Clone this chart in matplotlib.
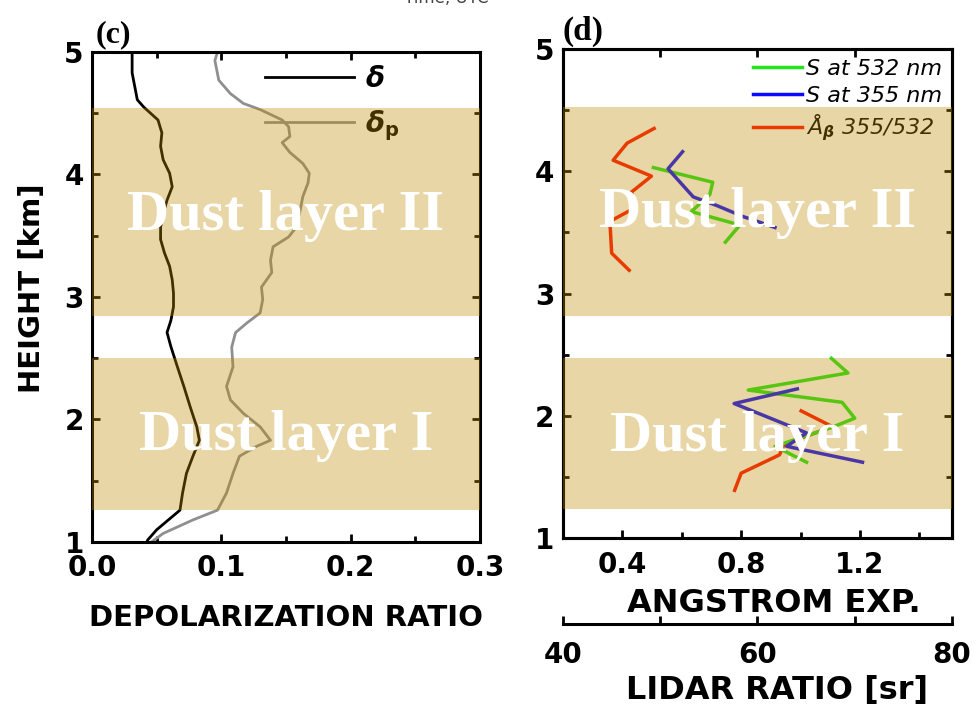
import matplotlib.pyplot as plt
import matplotlib.ticker as ticker

# ---- data ----
# panel (c): depolarization ratio profiles
H_DELTA = [5.0, 4.83, 4.61, 4.55, 4.445, 4.34, 4.23, 4.12, 4.01, 3.90, 3.79, 3.68, 3.57,
           3.47, 3.36, 3.25, 3.14, 3.03, 2.92, 2.81, 2.71, 2.594, 2.43, 2.27, 2.10, 1.94,
           1.83, 1.70, 1.56, 1.40, 1.26, 1.18, 1.10, 1.016, 1.0]
DELTA = [0.031, 0.031, 0.035, 0.040, 0.051, 0.054, 0.053, 0.055, 0.060, 0.062, 0.058, 0.055,
         0.053, 0.053, 0.056, 0.060, 0.062, 0.063, 0.063, 0.061, 0.058, 0.061, 0.066, 0.071,
         0.076, 0.081, 0.083, 0.078, 0.073, 0.070, 0.068, 0.059, 0.050, 0.043, 0.0425]

H_DELTA_P = [5.0, 4.93, 4.77, 4.66, 4.58, 4.53, 4.445, 4.39, 4.31, 4.26, 4.18, 4.09, 4.01,
             3.93, 3.82, 3.71, 3.57, 3.49, 3.41, 3.30, 3.20, 3.08, 2.98, 2.87, 2.79, 2.71,
             2.59, 2.43, 2.27, 2.16, 2.05, 1.94, 1.83, 1.78, 1.70, 1.56, 1.40, 1.26, 1.18,
             1.07, 1.0]
DELTA_P = [0.097, 0.095, 0.098, 0.107, 0.117, 0.130, 0.147, 0.152, 0.153, 0.147, 0.153,
           0.163, 0.168, 0.167, 0.163, 0.161, 0.158, 0.152, 0.140, 0.138, 0.139, 0.131,
           0.132, 0.130, 0.120, 0.111, 0.108, 0.109, 0.104, 0.107, 0.117, 0.130, 0.138,
           0.127, 0.114, 0.109, 0.104, 0.097, 0.078, 0.055, 0.046]

# panel (d): Angstrom exponent (upper / lower layer)
H_ANG_UP = [4.35, 4.23, 4.09, 3.96, 3.83, 3.70, 3.59, 3.33, 3.19]
ANG_UP = [0.507, 0.416, 0.369, 0.498, 0.431, 0.442, 0.358, 0.364, 0.423]
H_ANG_LO = [2.04, 1.91, 1.77, 1.68, 1.53, 1.39]
ANG_LO = [1.002, 1.108, 0.946, 0.929, 0.80, 0.778]

# lidar ratio at 532 nm
H_S532_UP = [4.03, 3.91, 3.81, 3.67, 3.56, 3.42]
S532_UP = [49.3, 55.4, 55.1, 53.2, 58.2, 56.7]
H_S532_LO = [2.47, 2.35, 2.21, 2.11, 1.98, 1.91, 1.75, 1.62]
S532_LO = [67.6, 69.3, 59.05, 68.7, 70.0, 67.8, 61.8, 65.05]

# lidar ratio at 355 nm
H_S355_UP = [4.16, 4.02, 3.79, 3.72, 3.63, 3.54]
S355_UP = [52.3, 50.8, 53.4, 55.8, 58.5, 61.8]
H_S355_LO = [2.22, 2.10, 1.86, 1.75, 1.62]
S355_LO = [64.1, 57.6, 65.05, 63.0, 70.8]

# dust layer bounds [km]
LAYERS_C = [(2.845, 4.545), (1.26, 2.50)]
LAYERS_D = [(2.816, 4.525), (1.24, 2.47)]
LAYER_NAMES = ["Dust layer II", "Dust layer I"]

ANG_LIM = (0.2, 1.51)
LR_LIM = (40, 80)

BAND_COLOR = "#BF8C00"
BAND_ALPHA = 0.35
RED, GREEN, BLUE = "#ff1000", "#22e51a", "#0a0aff"

plt.rcParams.update({
    "font.family": "DejaVu Sans", "font.weight": "bold",
    "axes.linewidth": 2.2,
    "xtick.direction": "in", "ytick.direction": "in",
    "xtick.major.width": 2, "ytick.major.width": 2,
    "xtick.minor.width": 2, "ytick.minor.width": 2,
    "xtick.major.size": 6, "ytick.major.size": 6,
    "xtick.minor.size": 4, "ytick.minor.size": 4,
    "xtick.labelsize": 20, "ytick.labelsize": 20,
})

fig = plt.figure(figsize=(9.76, 7.11), dpi=100)
ax_c = fig.add_axes([0.0943, 0.2377, 0.3975, 0.6892])
ax_d = fig.add_axes([0.5768, 0.2433, 0.3986, 0.6878])


def bands(ax, layers, text_h):
    for (lo, hi), name, th in zip(layers, LAYER_NAMES, text_h):
        ax.axhspan(lo, hi, color=BAND_COLOR, alpha=BAND_ALPHA, lw=0, zorder=3)
        ax.text(0.5, th, name, transform=ax.get_yaxis_transform(),
                ha="center", va="center", color="white", zorder=4,
                family="Liberation Serif", fontweight="bold", fontsize=42)


def height_axis(ax):
    ax.set_ylim(1, 5)
    ax.yaxis.set_major_locator(ticker.MultipleLocator(1))
    ax.yaxis.set_minor_locator(ticker.MultipleLocator(0.5))
    ax.tick_params(axis="y", which="both", left=True, right=True, pad=6)


# ---- panel (c) ----
ax_c.plot(DELTA, H_DELTA, color="black", lw=2, label=r"$\delta$")
ax_c.plot(DELTA_P, H_DELTA_P, color="#8f8f8f", lw=2, label=r"$\delta_\mathrm{p}$")
ax_c.set_xlim(0, 0.3)
ax_c.xaxis.set_major_locator(ticker.MultipleLocator(0.1))
ax_c.xaxis.set_minor_locator(ticker.MultipleLocator(0.05))
ax_c.xaxis.set_major_formatter(ticker.FormatStrFormatter("%.1f"))
ax_c.tick_params(axis="x", which="both", top=True, pad=9)
height_axis(ax_c)
ax_c.set_xlabel("DEPOLARIZATION RATIO", fontsize=21, fontweight="bold")
ax_c.xaxis.set_label_coords(286 / 976, 1 - 604 / 711, transform=fig.transFigure)
ax_c.set_ylabel("HEIGHT [km]", fontsize=21, fontweight="bold")
ax_c.yaxis.set_label_coords(46 / 976, 1 - 288 / 711, transform=fig.transFigure)
leg_c = ax_c.legend(loc="upper right", bbox_to_anchor=(0.855, 1.025), frameon=False,
                    fontsize=20, handlelength=3.2, handletextpad=0.4, labelspacing=0.55)
leg_c.set_zorder(2.6)
bands(ax_c, LAYERS_C, [3.66, 1.865])
ax_c.text(0.01, 1.005, "(c)", transform=ax_c.transAxes, ha="left", va="bottom",
          family="Liberation Serif", fontweight="bold", fontsize=23)

# ---- panel (d) ----
ax_d.plot(ANG_UP, H_ANG_UP, color=RED, lw=2.5)
ax_d.plot(ANG_LO, H_ANG_LO, color=RED, lw=2.5)
ax_d.set_xlim(*ANG_LIM)
ax_d.xaxis.set_major_locator(ticker.FixedLocator([0.4, 0.8, 1.2]))
ax_d.xaxis.set_minor_locator(ticker.FixedLocator([0.6, 1.0, 1.4]))
ax_d.tick_params(axis="x", which="both", top=False, pad=9)
height_axis(ax_d)
ax_d.set_xlabel("ANGSTROM EXP.", fontsize=23, fontweight="bold")
ax_d.xaxis.set_label_coords(774 / 976, 1 - 588 / 711, transform=fig.transFigure)

ax_lr = ax_d.twiny()
ax_lr.set_xlim(*LR_LIM)
ax_lr.plot(S532_UP, H_S532_UP, color=GREEN, lw=2.5, label="S at 532 nm")
ax_lr.plot(S532_LO, H_S532_LO, color=GREEN, lw=2.5)
ax_lr.plot(S355_UP, H_S355_UP, color=BLUE, lw=2.5, label="S at 355 nm")
ax_lr.plot(S355_LO, H_S355_LO, color=BLUE, lw=2.5)
ax_lr.plot([], [], color=RED, lw=2.5, label=r"Å$_{\beta}$ 355/532")
ax_lr.xaxis.set_major_locator(ticker.FixedLocator([50, 60, 70]))
ax_lr.xaxis.set_minor_locator(ticker.NullLocator())
ax_lr.tick_params(axis="x", which="both", top=True, labeltop=False, length=6)
ax_lr.set_ylim(1, 5)
leg_d = ax_lr.legend(loc="upper right", bbox_to_anchor=(1.025, 1.02), frameon=False,
                     prop={"style": "italic", "size": 16, "weight": "normal"},
                     handlelength=2.2, handletextpad=0.15, labelspacing=0.3)
leg_d.set_zorder(2.6)
bands(ax_lr, LAYERS_D, [3.66, 1.83])
ax_d.text(0.0, 1.005, "(d)", transform=ax_d.transAxes, ha="left", va="bottom",
          family="Liberation Serif", fontweight="bold", fontsize=24)

# separate lidar ratio scale below panel (d)
ax_sr = fig.add_axes([0.5768, 0.1224, 0.3986, 0.0])
for side in ("left", "right", "top"):
    ax_sr.spines[side].set_visible(False)
ax_sr.set_xlim(*LR_LIM)
ax_sr.set_yticks([])
ax_sr.xaxis.set_major_locator(ticker.FixedLocator([40, 60, 80]))
ax_sr.xaxis.set_minor_locator(ticker.FixedLocator([50, 70]))
ax_sr.tick_params(axis="x", which="both", direction="in", length=6, pad=12)
ax_sr.set_xlabel("LIDAR RATIO [sr]", fontsize=23, fontweight="bold")
ax_sr.xaxis.set_label_coords(777 / 976, 1 - 675 / 711, transform=fig.transFigure)

fig.text(0.457, 1 - 3 / 711, "Time, UTC", ha="center", va="baseline",
         fontsize=12, fontweight="normal", color="#444444")

fig.savefig("out.png", dpi=100)
